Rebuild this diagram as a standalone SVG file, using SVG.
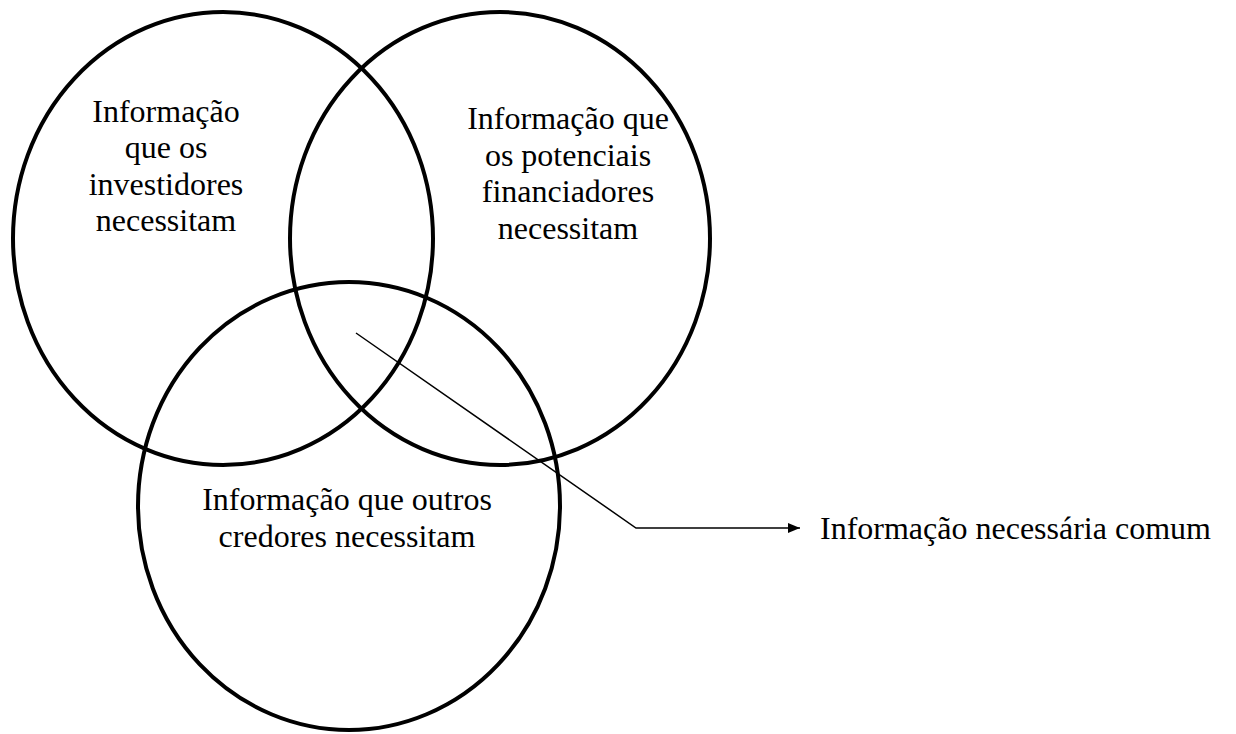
<svg xmlns="http://www.w3.org/2000/svg" width="1236" height="734" viewBox="0 0 1236 734">
<style>
.c{fill:none;stroke:#000;stroke-width:4}
.t{font-family:"Liberation Serif","Times New Roman",serif;font-size:32px;fill:#000;text-anchor:middle}
.l{fill:none;stroke:#000;stroke-width:1.5}
</style>
<defs>
<marker id="ah" markerWidth="12" markerHeight="10" refX="12" refY="5" orient="auto" markerUnits="userSpaceOnUse">
<path d="M0,0 L12,5 L0,10 Z" fill="#000"/>
</marker>
</defs>
<rect width="1236" height="734" fill="#fff"/>
<g id="investidores">
<ellipse class="c" cx="223" cy="238.5" rx="210" ry="226.5"/>
<text class="t" x="166" y="122">Informação</text>
<text class="t" x="166" y="158">que os</text>
<text class="t" x="166" y="195">investidores</text>
<text class="t" x="166" y="231">necessitam</text>
</g>
<g id="financiadores">
<ellipse class="c" cx="500" cy="238.5" rx="210" ry="226.5"/>
<text class="t" x="568" y="129">Informação que</text>
<text class="t" x="568" y="166">os potenciais</text>
<text class="t" x="568" y="202">financiadores</text>
<text class="t" x="568" y="239">necessitam</text>
</g>
<g id="credores">
<ellipse class="c" cx="349" cy="506" rx="211" ry="224"/>
<text class="t" x="347" y="510">Informação que outros</text>
<text class="t" x="347" y="547">credores necessitam</text>
</g>
<g id="connectors">
<polyline class="l" points="356,333 636,528 800,528" marker-end="url(#ah)"/>
</g>
<g id="comum">
<text class="t" style="text-anchor:start" x="820" y="539">Informação necessária comum</text>
</g>
</svg>
